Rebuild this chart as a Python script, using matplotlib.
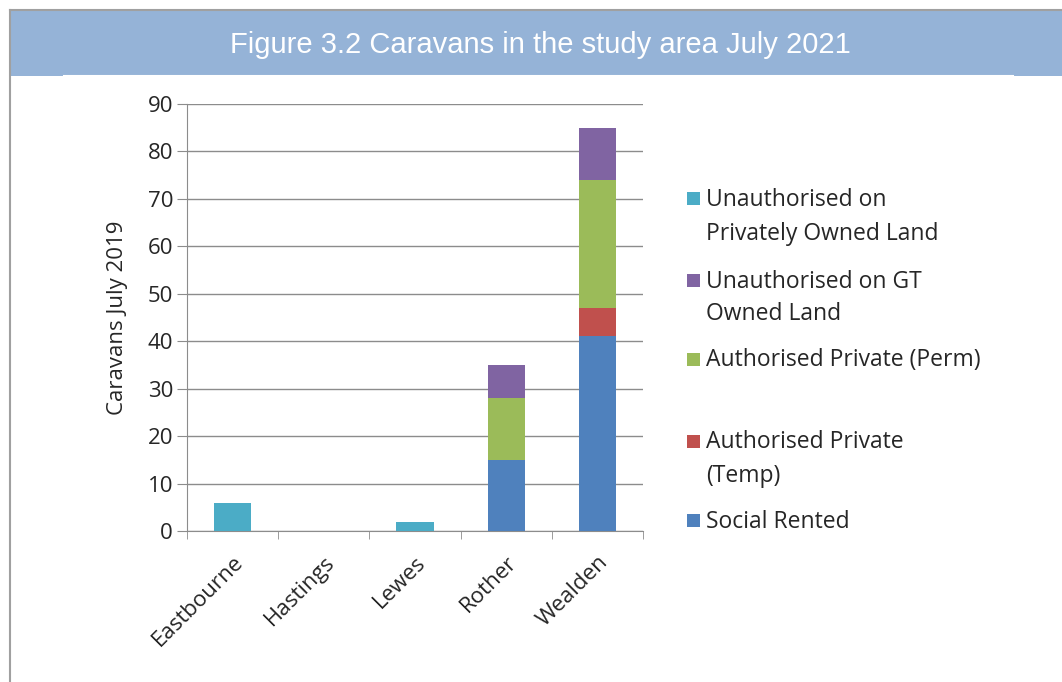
import matplotlib
matplotlib.use("Agg")
import matplotlib.pyplot as plt
from matplotlib.patches import Rectangle
from matplotlib.lines import Line2D
import numpy as np

categories = ["Eastbourne", "Hastings", "Lewes", "Rother", "Wealden"]
social_rented = [0, 0, 0, 15, 41]
auth_temp = [0, 0, 0, 0, 6]
auth_perm = [0, 0, 0, 13, 27]
unauth_gt = [0, 0, 0, 7, 11]
unauth_private = [6, 0, 2, 0, 0]

series_names = ["Social Rented", "Authorised Private\n(Temp)", "Authorised Private (Perm)",
                "Unauthorised on GT\nOwned Land", "Unauthorised on\nPrivately Owned Land"]
series_values = [social_rented, auth_temp, auth_perm, unauth_gt, unauth_private]
series_colors = ["#4F81BD", "#C0504D", "#9BBB59", "#8064A2", "#4BACC6"]

yticks = list(range(0, 91, 10))
title = "Figure 3.2 Caravans in the study area July 2021"
ylabel = "Caravans July 2019"

FONT = "Open Sans"
FS = 16
TXT = "#262626"
GRID = "#8C8C8C"

W, H = 1062, 682
fig = plt.figure(figsize=(W / 100, H / 100), dpi=100)
fig.patch.set_facecolor("white")

def fx(px):
    return px / W

def fy(py):
    return 1 - py / H

# header band and frame
fig.add_artist(Rectangle((fx(10), fy(76)), fx(1052), fy(10) - fy(76), transform=fig.transFigure,
                         facecolor="#95B3D7", edgecolor="none", zorder=0))
fig.add_artist(Line2D([fx(64), fx(1013)], [fy(75.5), fy(75.5)], transform=fig.transFigure,
                      color="white", lw=1.5))
fig.add_artist(Line2D([fx(9.5), fx(1062)], [fy(9.5), fy(9.5)], transform=fig.transFigure,
                      color="#A0A0A0", lw=1.5))
fig.add_artist(Line2D([fx(9.5), fx(9.5)], [fy(9.5), 0], transform=fig.transFigure,
                      color="#A0A0A0", lw=1.5))
fig.text(fx(540), fy(45), title, ha="center", va="center", color="white",
         fontsize=21, family="Liberation Sans")

# axes
ax = fig.add_axes([fx(187), fy(531), fx(643) - fx(187), fy(104) - fy(531)])
x = np.arange(len(categories))
bottom = np.zeros(len(categories))
for vals, col in zip(series_values, series_colors):
    v = np.array(vals, dtype=float)
    ax.bar(x, v, bottom=bottom, width=0.41, color=col, zorder=3)
    bottom += v

ax.set_xlim(-0.5, len(categories) - 0.5)
ax.set_ylim(0, 90)
ax.set_yticks(yticks)
ax.set_yticklabels([str(t) for t in yticks], fontsize=FS, family=FONT, color=TXT)
ax.yaxis.grid(True, color=GRID, lw=1, zorder=0)
ax.tick_params(axis="y", length=7, color=GRID, pad=3)
ax.set_xticks(x)
ax.set_xticklabels(categories, rotation=45, ha="right", rotation_mode="anchor",
                   fontsize=FS, family=FONT, color=TXT)
ax.set_xticks(np.arange(-0.5, len(categories), 1.0), minor=True)
ax.tick_params(axis="x", which="major", length=0, pad=15)
ax.tick_params(axis="x", which="minor", length=6, color=GRID)
for s in ["top", "right"]:
    ax.spines[s].set_visible(False)
for s in ["left", "bottom"]:
    ax.spines[s].set_color(GRID)
ax.set_ylabel(ylabel, fontsize=FS, family=FONT, color=TXT, labelpad=14)
for lab in ax.get_xticklabels():
    lab.set_x(lab.get_position()[0] + 0.08)

# legend (manual, Excel-like slots)
legend_rows = [199, 280, 359, 441, 520]
LINE_STEP = 33
for name, col, py in zip(series_names[::-1], series_colors[::-1], legend_rows):
    fig.add_artist(Rectangle((fx(687), fy(py + 6.5)), fx(13), fy(py - 6.5) - fy(py + 6.5),
                             transform=fig.transFigure, facecolor=col, edgecolor="none"))
    for i, line in enumerate(name.split("\n")):
        fig.text(fx(706), fy(py + 7.5 + i * LINE_STEP), line, ha="left", va="baseline",
                 fontsize=16.5, family=FONT, color=TXT, transform=fig.transFigure)

fig.savefig("out.png", dpi=100)
